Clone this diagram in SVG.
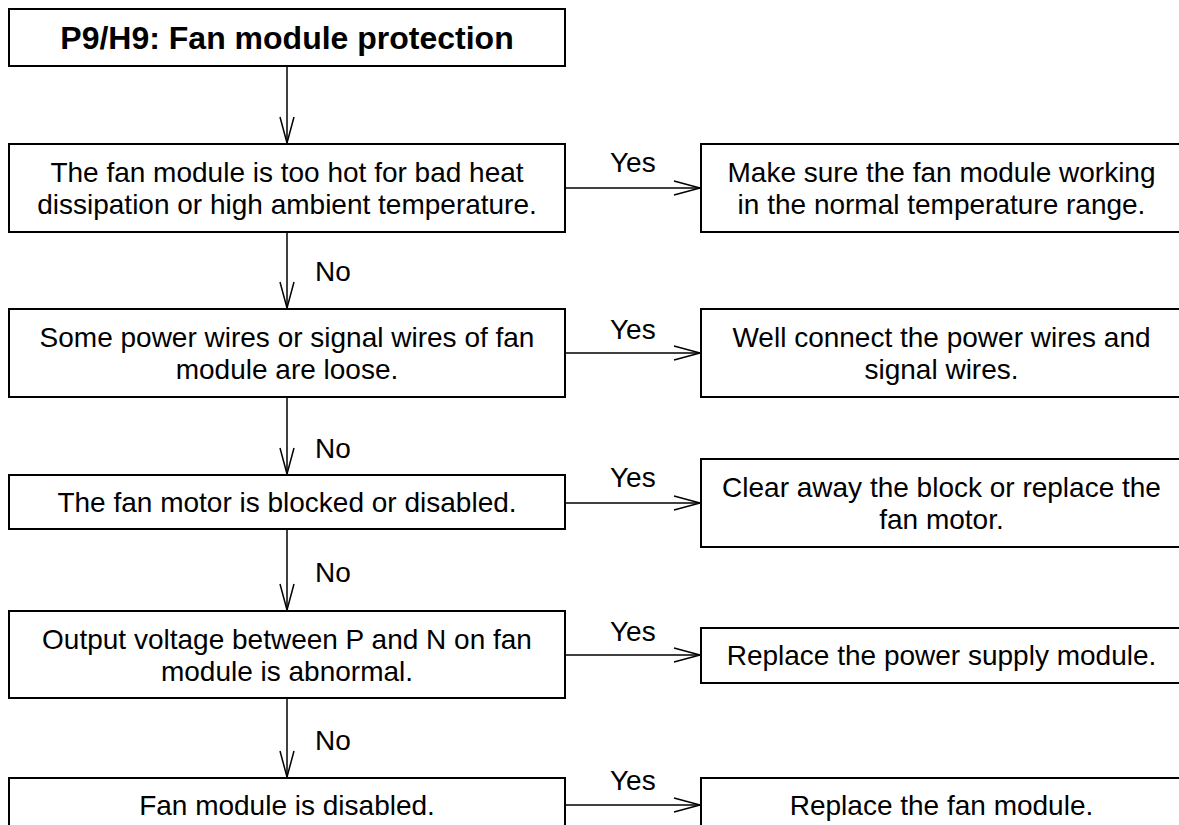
<svg xmlns="http://www.w3.org/2000/svg" width="1179" height="825" viewBox="0 0 1179 825">
<style>
  .box { fill: #fff; stroke: #000; stroke-width: 2; }
  .t { font-family: "Liberation Sans", Arial, sans-serif; font-size: 28px; fill: #000; text-anchor: middle; }
  .title { font-family: "Liberation Sans", Arial, sans-serif; font-size: 32px; font-weight: bold; fill: #000; text-anchor: middle; }
  .lbl { font-family: "Liberation Sans", Arial, sans-serif; font-size: 28px; fill: #000; }
  .c { stroke: #000; stroke-width: 1.5; fill: none; marker-end: url(#arr); }
</style>
<defs>
  <marker id="arr" markerUnits="userSpaceOnUse" viewBox="-28 -9 30 18" refX="0" refY="0" markerWidth="30" markerHeight="18" orient="auto">
    <path d="M-26,-7 L0,0 L-26,7" fill="none" stroke="#000" stroke-width="1.5"/>
  </marker>
</defs>
<rect width="1179" height="825" fill="#fff"/>

<g id="connectors">
  <line class="c" x1="287" y1="66" x2="287" y2="143"/>
  <line class="c" x1="287" y1="232" x2="287" y2="308"/>
  <line class="c" x1="287" y1="397" x2="287" y2="474"/>
  <line class="c" x1="287" y1="529" x2="287" y2="610"/>
  <line class="c" x1="287" y1="698" x2="287" y2="777"/>
  <line class="c" x1="565" y1="188" x2="700" y2="188"/>
  <line class="c" x1="565" y1="353" x2="700" y2="353"/>
  <line class="c" x1="565" y1="503" x2="700" y2="503"/>
  <line class="c" x1="565" y1="655" x2="700" y2="655"/>
  <line class="c" x1="565" y1="805" x2="700" y2="805"/>
  <text class="lbl" x="315" y="281">No</text>
  <text class="lbl" x="315" y="458">No</text>
  <text class="lbl" x="315" y="582">No</text>
  <text class="lbl" x="315" y="750">No</text>
  <text class="lbl" x="610" y="172">Yes</text>
  <text class="lbl" x="610" y="339">Yes</text>
  <text class="lbl" x="610" y="487">Yes</text>
  <text class="lbl" x="610" y="641">Yes</text>
  <text class="lbl" x="610" y="790">Yes</text>
</g>

<g id="title">
  <rect class="box" x="9" y="9" width="556" height="57"/>
  <text class="title" x="287" y="49">P9/H9: Fan module protection</text>
</g>

<g id="q1">
  <rect class="box" x="9" y="144" width="556" height="88"/>
  <text class="t" x="287" y="182">The fan module is too hot for bad heat</text>
  <text class="t" x="287" y="214">dissipation or high ambient temperature.</text>
</g>
<g id="a1">
  <rect class="box" x="701" y="144" width="481" height="88"/>
  <text class="t" x="941.5" y="182">Make sure the fan module working</text>
  <text class="t" x="941.5" y="214">in the normal temperature range.</text>
</g>

<g id="q2">
  <rect class="box" x="9" y="309" width="556" height="88"/>
  <text class="t" x="287" y="347">Some power wires or signal wires of fan</text>
  <text class="t" x="287" y="379">module are loose.</text>
</g>
<g id="a2">
  <rect class="box" x="701" y="309" width="481" height="88"/>
  <text class="t" x="941.5" y="347">Well connect the power wires and</text>
  <text class="t" x="941.5" y="379">signal wires.</text>
</g>

<g id="q3">
  <rect class="box" x="9" y="475" width="556" height="54"/>
  <text class="t" x="287" y="512">The fan motor is blocked or disabled.</text>
</g>
<g id="a3">
  <rect class="box" x="701" y="459" width="481" height="88"/>
  <text class="t" x="941.5" y="497">Clear away the block or replace the</text>
  <text class="t" x="941.5" y="529">fan motor.</text>
</g>

<g id="q4">
  <rect class="box" x="9" y="611" width="556" height="87"/>
  <text class="t" x="287" y="649">Output voltage between P and N on fan</text>
  <text class="t" x="287" y="681">module is abnormal.</text>
</g>
<g id="a4">
  <rect class="box" x="701" y="628" width="481" height="55"/>
  <text class="t" x="941.5" y="665">Replace the power supply module.</text>
</g>

<g id="q5">
  <rect class="box" x="9" y="778" width="556" height="54"/>
  <text class="t" x="287" y="815">Fan module is disabled.</text>
</g>
<g id="a5">
  <rect class="box" x="701" y="778" width="481" height="54"/>
  <text class="t" x="941.5" y="815">Replace the fan module.</text>
</g>
</svg>
